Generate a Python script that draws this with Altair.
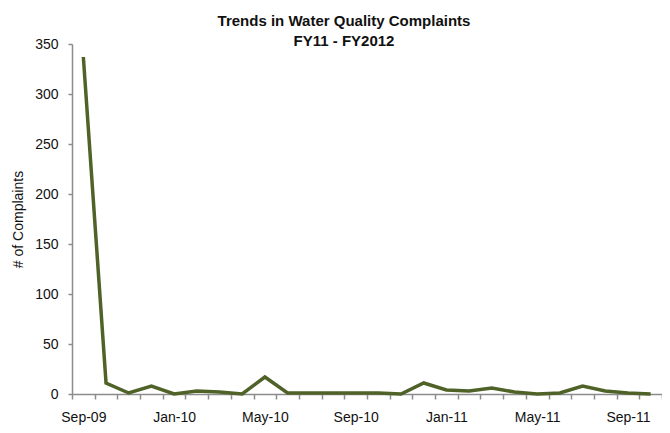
import json
import altair as alt
import pandas as pd

months = ["Sep-09", "Oct-09", "Nov-09", "Dec-09", "Jan-10", "Feb-10", "Mar-10",
          "Apr-10", "May-10", "Jun-10", "Jul-10", "Aug-10", "Sep-10", "Oct-10",
          "Nov-10", "Dec-10", "Jan-11", "Feb-11", "Mar-11", "Apr-11", "May-11",
          "Jun-11", "Jul-11", "Aug-11", "Sep-11", "Oct-11"]
complaints = [337, 11, 1, 8, 0, 3, 2, 0, 17, 1, 1, 1, 1, 1,
              0, 11, 4, 3, 6, 2, 0, 1, 8, 3, 1, 0]
label_months = ["Sep-09", "Jan-10", "May-10", "Sep-10", "Jan-11", "May-11", "Sep-11"]
y_ticks = [0, 50, 100, 150, 200, 250, 300, 350]

df = pd.DataFrame({"month": months, "complaints": complaints})

REG = "'Liberation Sans', Arial, sans-serif"
AX = "#8c8c8c"

label_expr = "indexof(" + json.dumps(label_months) + ", datum.value) >= 0 ? datum.label : ''"

chart = alt.Chart(df).mark_line(color="#4f6228", strokeWidth=3.5).encode(
    x=alt.X(
        "month:O",
        sort=months,
        bandPosition=0.5,
        scale=alt.Scale(type="band", paddingInner=0, paddingOuter=0),
        axis=alt.Axis(
            title=None, labelAngle=0, tickBand="extent", labelExpr=label_expr,
            tickSize=5, labelPadding=11, domainColor=AX, tickColor=AX,
            domainWidth=1.5, tickWidth=1.5,
            labelFont=REG, labelFontSize=14, labelColor="#111",
            labelOverlap=False,
        ),
    ),
    y=alt.Y(
        "complaints:Q",
        scale=alt.Scale(domain=[0, 350], nice=False),
        axis=alt.Axis(
            values=y_ticks, grid=False, title="# of Complaints",
            tickSize=4, labelPadding=10, domainColor=AX, tickColor=AX,
            domainWidth=1.5, tickWidth=1.5,
            labelFont=REG, labelFontSize=14, labelColor="#111",
            titleFont=REG, titleFontSize=14, titleFontWeight="normal",
            titleColor="#111", titlePadding=9,
        ),
    ),
).properties(
    width=590,
    height=350,
    title=alt.TitleParams(
        ["Trends in Water Quality Complaints", "FY11 - FY2012"],
        font=REG, fontSize=15, fontWeight="bold", color="#111",
        anchor="middle", dx=-23, offset=-12, lineHeight=20,
    ),
    autosize=alt.AutoSizeParams(type="none"),
    padding={"left": 64, "top": 36, "right": 0, "bottom": 31},
).configure_view(stroke=None)

chart.save("out.html", embed_options={"renderer": "svg", "actions": False})
